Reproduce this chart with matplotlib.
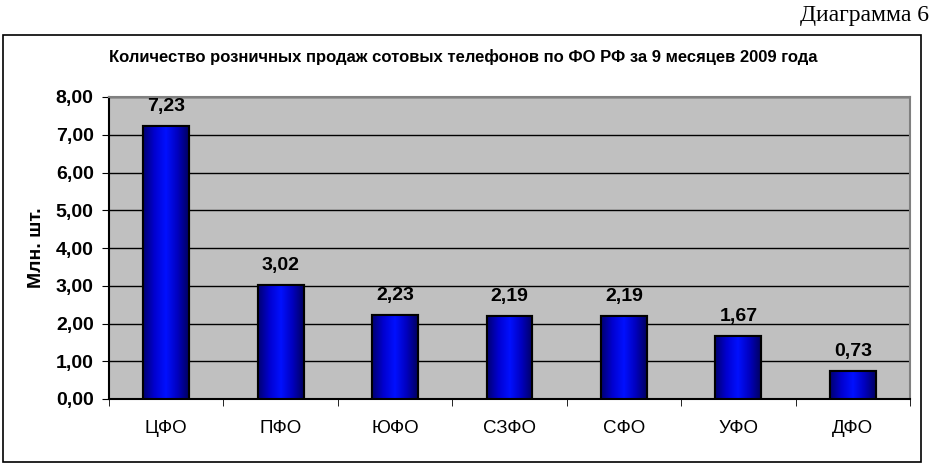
import numpy as np
import matplotlib
matplotlib.use("Agg")
from matplotlib import pyplot as plt
from matplotlib.patches import Rectangle
from matplotlib.colors import LinearSegmentedColormap

# данные
regions = ["ЦФО", "ПФО", "ЮФО", "СЗФО", "СФО", "УФО", "ДФО"]
sales = [7.23, 3.02, 2.23, 2.19, 2.19, 1.67, 0.73]
labels = ["7,23", "3,02", "2,23", "2,19", "2,19", "1,67", "0,73"]
yticks = [0, 1, 2, 3, 4, 5, 6, 7, 8]

plt.rcParams['font.family'] = ['Liberation Sans', 'DejaVu Sans']

fig = plt.figure(figsize=(9.36, 4.67), dpi=100)
fig.patch.set_facecolor("white")
ax = fig.add_axes([109/936, 1-399/467, (910-109)/936, (399-97)/467])
ax.set_facecolor("#C0C0C0")

x = np.arange(len(regions))
w = 0.4
bars = ax.bar(x, sales, width=w, color="#0000E0", edgecolor="black", linewidth=1.5, zorder=3)

# градиент на столбиках
cmap = LinearSegmentedColormap.from_list("g", ["#000070", "#0000D0", "#0010FF", "#0000C0", "#000060"])
grad = np.linspace(0, 1, 256).reshape(1, -1)
for b in bars:
    im = ax.imshow(grad, cmap=cmap, aspect="auto", zorder=3.5,
                   extent=[b.get_x(), b.get_x()+b.get_width(), 0, b.get_height()])
    im.set_clip_path(b)
    ax.add_patch(Rectangle((b.get_x(), 0), b.get_width(), b.get_height(),
                           fill=False, edgecolor="black", linewidth=1.5, zorder=4))

for xi, v, t in zip(x, sales, labels):
    ax.annotate(t, (xi, v), xytext=(0, 8), textcoords="offset points",
                ha="center", va="bottom", fontsize=14, fontweight="bold")

ax.set_xlim(-0.5, len(regions)-0.5)
ax.set_ylim(0, 8)
ax.set_yticks(yticks)
ax.set_yticklabels(["%d,00" % t for t in yticks], fontsize=14, fontweight="bold")
ax.yaxis.grid(True, color="black", linewidth=1, zorder=1)
ax.set_axisbelow(True)

ax.set_xticks(x)
ax.set_xticklabels(regions, fontsize=13.5)
ax.set_xticks(np.arange(-0.5, len(regions)), minor=True)
ax.tick_params(axis="x", which="major", length=0, pad=15)
ax.tick_params(axis="x", which="minor", length=5, direction="out", color="black")
ax.tick_params(axis="y", length=5, direction="out", pad=6)

ax.spines["left"].set_color("black")
ax.spines["bottom"].set_color("black")
ax.spines["top"].set_color("#808080")
ax.spines["right"].set_color("#808080")
for s in ax.spines.values():
    s.set_linewidth(1.5)

ax.set_ylabel("Млн. шт.", fontsize=14, fontweight="bold", labelpad=8)

fig.text(0.495, 1-57/467, "Количество розничных продаж сотовых телефонов по ФО РФ за 9 месяцев 2009 года",
         ha="center", va="center", fontsize=12, fontweight="bold")
fig.text(929/936, 1-16/467, "Диаграмма 6", ha="right", va="center", fontsize=17,
         family=["Liberation Serif", "DejaVu Serif"])

fig.add_artist(Rectangle((3/936, 1-462/467), 918/936, 427/467, transform=fig.transFigure,
                         fill=False, edgecolor="black", linewidth=1.2))

plt.savefig("out.png", dpi=100)
